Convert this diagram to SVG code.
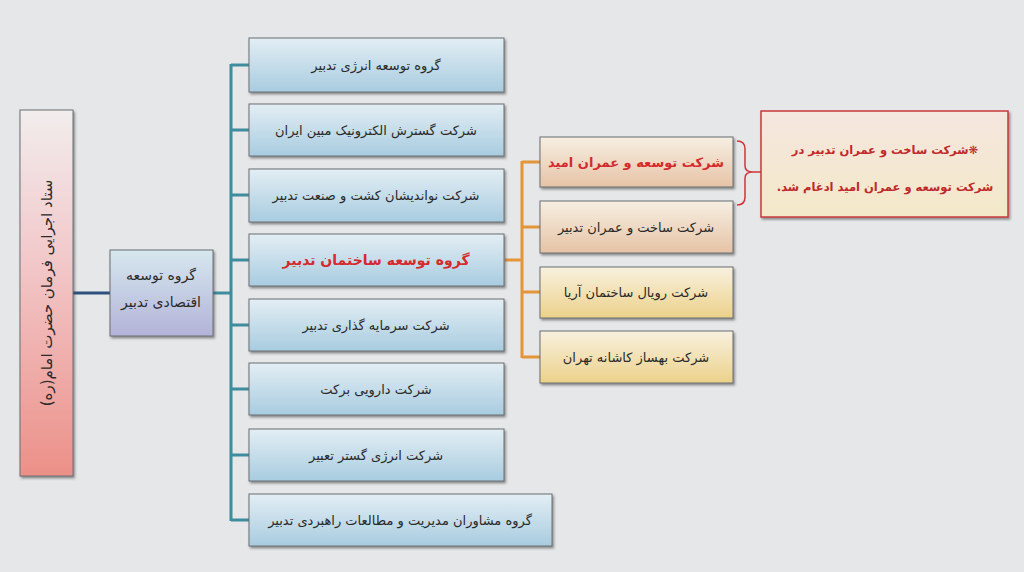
<svg xmlns="http://www.w3.org/2000/svg" width="1024" height="572" viewBox="0 0 1024 572">
<defs>
<linearGradient id="gBlue" x1="0" y1="0" x2="0" y2="1">
<stop offset="0" stop-color="#e3eef4"/>
<stop offset="1" stop-color="#a8cce0"/>
</linearGradient>
<linearGradient id="gLav" x1="0" y1="0" x2="0" y2="1">
<stop offset="0" stop-color="#d6e8ef"/>
<stop offset="1" stop-color="#b3b3d8"/>
</linearGradient>
<linearGradient id="gRed" x1="0" y1="0" x2="0" y2="1">
<stop offset="0" stop-color="#f2eded"/>
<stop offset="0.4" stop-color="#f2c9cb"/>
<stop offset="1" stop-color="#ec9088"/>
</linearGradient>
<linearGradient id="gTan" x1="0" y1="0" x2="0" y2="1">
<stop offset="0" stop-color="#f6efe2"/>
<stop offset="1" stop-color="#e6c3a6"/>
</linearGradient>
<linearGradient id="gGold" x1="0" y1="0" x2="0" y2="1">
<stop offset="0" stop-color="#f8f1df"/>
<stop offset="1" stop-color="#ecd18a"/>
</linearGradient>
<linearGradient id="gNote" x1="0" y1="0" x2="0" y2="1">
<stop offset="0" stop-color="#f5e6df"/>
<stop offset="1" stop-color="#f3e9c8"/>
</linearGradient>
<filter id="sh" x="-10%" y="-10%" width="130%" height="140%">
<feDropShadow dx="1.5" dy="2" stdDeviation="0.8" flood-color="#444" flood-opacity="0.55"/>
</filter>
</defs>
<style>
.box{stroke:#6a6e72;stroke-width:1;filter:url(#sh)}
.t{font-family:"DejaVu Sans",sans-serif;font-size:13px;font-weight:normal;fill:#2a2a2a;text-anchor:middle;direction:rtl}
.r{fill:#d42a2e;font-size:14px;font-weight:bold}
.n{fill:#c0282c;font-size:11.5px;font-weight:bold}
.teal{stroke:#3d8d9e;stroke-width:3;fill:none}
.navy{stroke:#2f4f7e;stroke-width:3;fill:none}
.org{stroke:#e3953a;stroke-width:3;fill:none}
.brace{stroke:#d0343a;stroke-width:1.5;fill:none}
</style>
<rect x="0" y="0" width="1024" height="572" fill="#e5e7e8"/>

<g id="connectors">
<line class="navy" x1="73" y1="293" x2="110" y2="293"/>
<line class="teal" x1="213" y1="293" x2="231" y2="293"/>
<line class="teal" x1="231" y1="64" x2="231" y2="521"/>
<line class="teal" x1="231" y1="65" x2="249" y2="65"/>
<line class="teal" x1="231" y1="130" x2="249" y2="130"/>
<line class="teal" x1="231" y1="195" x2="249" y2="195"/>
<line class="teal" x1="231" y1="260" x2="249" y2="260"/>
<line class="teal" x1="231" y1="325" x2="249" y2="325"/>
<line class="teal" x1="231" y1="389" x2="249" y2="389"/>
<line class="teal" x1="231" y1="455" x2="249" y2="455"/>
<line class="teal" x1="231" y1="520" x2="249" y2="520"/>
<line class="org" x1="505" y1="260" x2="522" y2="260"/>
<line class="org" x1="522" y1="161" x2="522" y2="358"/>
<line class="org" x1="522" y1="162" x2="540" y2="162"/>
<line class="org" x1="522" y1="227" x2="540" y2="227"/>
<line class="org" x1="522" y1="292" x2="540" y2="292"/>
<line class="org" x1="522" y1="357" x2="540" y2="357"/>
<path class="brace" d="M737,141 Q745,141 745,149 L745,166 Q745,172 753,172 Q745,172 745,178 L745,197 Q745,205 737,205"/>
<line class="brace" x1="753" y1="172" x2="761" y2="172"/>
</g>

<g id="n-root">
<rect class="box" x="20" y="110" width="53" height="366" fill="url(#gRed)"/>
<text class="t" transform="translate(47,293) rotate(-90)" dy="5" style="font-size:15px">ستاد اجرایی فرمان حضرت امام(ره)</text>
</g>

<g id="n-eco">
<rect class="box" x="110" y="250" width="103" height="86" fill="url(#gLav)"/>
<text class="t" x="161" y="280" style="font-size:14px">گروه توسعه</text>
<text class="t" x="161" y="307" style="font-size:14px">اقتصادی تدبیر</text>
</g>

<g id="n-b1"><rect class="box" x="249" y="38" width="255" height="54" fill="url(#gBlue)"/><text class="t" x="376" y="70">گروه توسعه انرژی تدبیر</text></g>
<g id="n-b2"><rect class="box" x="249" y="104" width="255" height="52" fill="url(#gBlue)"/><text class="t" x="376" y="135">شرکت گسترش الکترونیک مبین ایران</text></g>
<g id="n-b3"><rect class="box" x="249" y="169" width="255" height="53" fill="url(#gBlue)"/><text class="t" x="376" y="200">شرکت نواندیشان کشت و صنعت تدبیر</text></g>
<g id="n-b4"><rect class="box" x="249" y="234" width="255" height="52" fill="url(#gBlue)"/><text class="t r" x="376" y="265">گروه توسعه ساختمان تدبیر</text></g>
<g id="n-b5"><rect class="box" x="249" y="299" width="255" height="52" fill="url(#gBlue)"/><text class="t" x="376" y="330">شرکت سرمایه گذاری تدبیر</text></g>
<g id="n-b6"><rect class="box" x="249" y="363" width="255" height="52" fill="url(#gBlue)"/><text class="t" x="376" y="394">شرکت دارویی برکت</text></g>
<g id="n-b7"><rect class="box" x="249" y="429" width="255" height="52" fill="url(#gBlue)"/><text class="t" x="376" y="460">شرکت انرژی گستر تعبیر</text></g>
<g id="n-b8"><rect class="box" x="249" y="494" width="303" height="52" fill="url(#gBlue)"/><text class="t" x="400" y="525">گروه مشاوران مدیریت و مطالعات راهبردی تدبیر</text></g>

<g id="n-o1"><rect class="box" x="540" y="137" width="193" height="50" fill="url(#gTan)"/><text class="t r" x="636" y="167" style="font-size:13px">شرکت توسعه و عمران امید</text></g>
<g id="n-o2"><rect class="box" x="540" y="201" width="193" height="52" fill="url(#gTan)"/><text class="t" x="636" y="232">شرکت ساخت و عمران تدبیر</text></g>
<g id="n-o3"><rect class="box" x="540" y="267" width="193" height="51" fill="url(#gGold)"/><text class="t" x="636" y="297">شرکت رویال ساختمان آریا</text></g>
<g id="n-o4"><rect class="box" x="540" y="331" width="193" height="52" fill="url(#gGold)"/><text class="t" x="636" y="362">شرکت بهساز کاشانه تهران</text></g>

<g id="n-note">
<rect x="761" y="111" width="247" height="106" fill="url(#gNote)" stroke="#c8383c" stroke-width="1.5" filter="url(#sh)"/>
<text class="t n" x="885" y="154">❋شرکت ساخت و عمران تدبیر در</text>
<text class="t n" x="885" y="191">شرکت توسعه و عمران امید ادغام شد.</text>
</g>
</svg>
